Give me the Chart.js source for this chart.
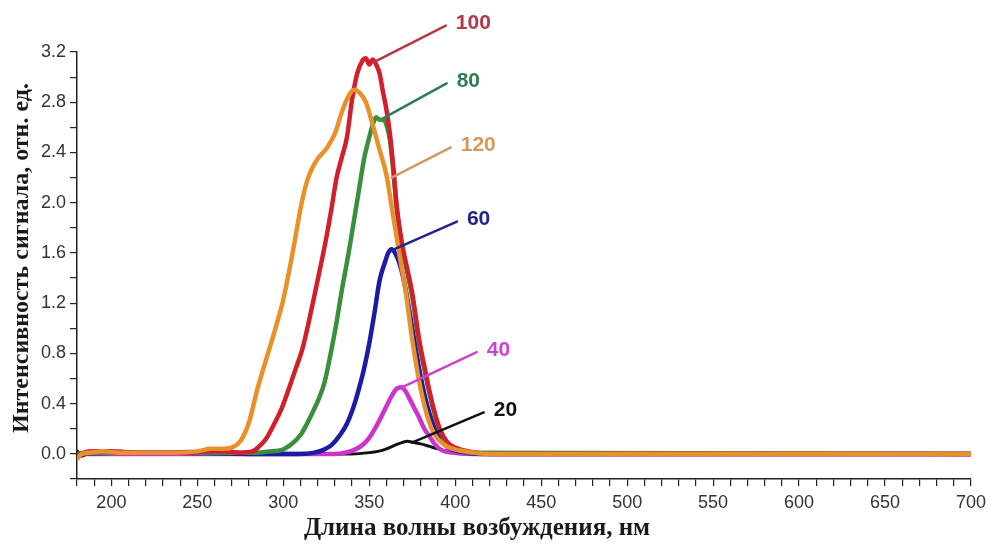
<!DOCTYPE html>
<html lang="ru">
<head>
<meta charset="utf-8">
<title>Спектры возбуждения</title>
<script src="https://cdn.jsdelivr.net/npm/chart.js@4.4.1/dist/chart.umd.min.js"></script>
<style>
  html, body { margin: 0; padding: 0; background: #fff; }
  #wrap { width: 992px; height: 544px; position: relative; }
</style>
</head>
<body>
<div id="wrap"><canvas id="spectra"></canvas></div>
<script>
// Excitation spectra, one curve per parameter value (label shown at the callout)
const seriesNames = ['120', '100', '80', '60', '40', '20'];

const wl120 = [180, 183, 188, 195, 205, 220, 235, 250, 258, 265, 270, 275, 280, 285, 290, 295, 300, 305, 308, 311, 314, 317, 320, 325, 330, 334, 338, 341, 344, 348, 352, 356, 360, 363, 366, 368, 371, 375, 380, 386, 394, 406, 420, 700];
const int120 = [-0.04, 0.0, 0.01, 0.02, 0.01, 0.01, 0.01, 0.02, 0.04, 0.04, 0.05, 0.1, 0.25, 0.52, 0.75, 0.98, 1.23, 1.57, 1.8, 2.02, 2.18, 2.28, 2.35, 2.43, 2.55, 2.72, 2.85, 2.9, 2.88, 2.8, 2.62, 2.42, 2.22, 1.97, 1.72, 1.55, 1.31, 0.91, 0.51, 0.21, 0.07, 0.02, 0.0, 0.0];

const wl100 = [180, 184, 190, 200, 215, 230, 245, 255, 265, 275, 282, 286, 290, 294, 299, 303, 307, 311, 314, 317, 321, 325, 328, 331, 334, 337, 340, 343, 346, 348, 350, 352, 354, 356, 358, 360, 362, 364, 366, 369, 372, 375, 379, 382, 385, 388, 391, 395, 400, 408, 420, 700];
const int100 = [-0.02, 0.01, 0.02, 0.02, 0.01, 0.01, 0.01, 0.02, 0.02, 0.01, 0.02, 0.06, 0.12, 0.22, 0.36, 0.51, 0.67, 0.83, 1.0, 1.19, 1.45, 1.72, 1.95, 2.2, 2.36, 2.52, 2.82, 3.03, 3.13, 3.15, 3.1, 3.14, 3.1, 3.03, 2.88, 2.74, 2.55, 2.28, 1.97, 1.68, 1.48, 1.28, 0.91, 0.7, 0.5, 0.33, 0.2, 0.1, 0.05, 0.02, 0.0, 0.0];

const wl80 = [180, 190, 210, 240, 270, 285, 292, 299, 305, 310, 313, 317, 321, 324, 328, 331, 334, 338, 341, 344, 347, 350, 352, 354, 356, 358, 360, 362, 364, 366, 369, 372, 375, 379, 382, 385, 388, 391, 395, 400, 410, 700];
const int80 = [0.0, 0.01, 0.01, 0.01, 0.01, 0.01, 0.02, 0.03, 0.08, 0.15, 0.22, 0.33, 0.45, 0.57, 0.83, 1.05, 1.3, 1.6, 1.85, 2.1, 2.35, 2.52, 2.62, 2.68, 2.66, 2.66, 2.62, 2.5, 2.25, 1.95, 1.65, 1.45, 1.25, 0.88, 0.68, 0.48, 0.32, 0.19, 0.09, 0.04, 0.01, 0.0];

const wl60 = [180, 200, 240, 280, 310, 318, 323, 328, 333, 337, 341, 344, 347, 350, 353, 356, 359, 361, 363, 365, 368, 371, 375, 379, 383, 387, 391, 396, 402, 415, 700];
const int60 = [0.0, 0.01, 0.01, 0.0, 0.0, 0.01, 0.03, 0.07, 0.15, 0.24, 0.38, 0.52, 0.68, 0.88, 1.12, 1.38, 1.52, 1.6, 1.63, 1.6, 1.5, 1.32, 1.0, 0.68, 0.42, 0.24, 0.12, 0.05, 0.02, 0.0, 0.0];

const wl40 = [180, 220, 280, 330, 336, 341, 345, 349, 352, 356, 360, 363, 366, 369, 371, 373, 376, 379, 382, 385, 388, 392, 398, 410, 700];
const int40 = [0.0, 0.0, 0.0, 0.0, 0.01, 0.03, 0.06, 0.11, 0.17, 0.27, 0.38, 0.46, 0.52, 0.53, 0.5, 0.45, 0.37, 0.29, 0.2, 0.14, 0.08, 0.03, 0.01, 0.0, 0.0];

const wl20 = [180, 182, 186, 190, 196, 205, 215, 230, 245, 260, 280, 300, 320, 340, 350, 355, 360, 365, 369, 372, 376, 380, 385, 390, 396, 405, 420];
const int20 = [0.03, -0.02, 0.0, 0.02, 0.01, 0.02, 0.01, 0.01, 0.02, 0.01, 0.0, 0.0, 0.0, 0.0, 0.01, 0.02, 0.04, 0.07, 0.09, 0.1, 0.09, 0.08, 0.06, 0.04, 0.02, 0.01, 0.0];

// callouts: [wavelength, intensity] where the leader starts and ends
const calloutFrom = [[363, 2.2], [352.7, 3.12], [358.5, 2.675], [363, 1.62], [369, 0.53], [374.8, 0.09]];
const calloutTo = [[397.4, 2.44], [394.5, 3.41], [395, 2.95], [401, 1.85], [412.5, 0.81], [416.6, 0.33]];

const xTickStep = 10;
const yTickStep = 0.2;

const lineColors = ['#e8912c', '#d2202a', '#3a8f3c', '#1b1ba6', '#cc33cc', '#111111'];
const labelColors = ['#d39a5f', '#b5374a', '#2e7d55', '#23238a', '#cc44cc', '#111111'];
const allWl = [wl120, wl100, wl80, wl60, wl40, wl20];
const allInt = [int120, int100, int80, int60, int40, int20];

const datasets = seriesNames.map((name, i) => ({
  label: name,
  data: allWl[i].map((w, k) => ({ x: w, y: allInt[i][k] })),
  borderColor: lineColors[i],
  borderWidth: i === 5 ? 3 : 4.5,
  pointRadius: 0,
  cubicInterpolationMode: 'monotone',
  fill: false
}));

// leader lines and numbers next to the peaks
const calloutPlugin = {
  id: 'callouts',
  afterDatasetsDraw(chart) {
    const { ctx, scales: { x, y } } = chart;
    ctx.save();
    ctx.lineCap = 'round';
    ctx.font = 'bold 21px "Liberation Sans", Arial, sans-serif';
    ctx.textBaseline = 'middle';
    seriesNames.forEach((name, i) => {
      const x0 = x.getPixelForValue(calloutFrom[i][0]);
      const y0 = y.getPixelForValue(calloutFrom[i][1]);
      const x1 = x.getPixelForValue(calloutTo[i][0]);
      const y1 = y.getPixelForValue(calloutTo[i][1]);
      ctx.strokeStyle = labelColors[i];
      ctx.lineWidth = 2.5;
      ctx.beginPath();
      ctx.moveTo(x0, y0);
      ctx.lineTo(x1, y1);
      ctx.stroke();
      ctx.fillStyle = labelColors[i];
      ctx.fillText(name, x1 + 10, y1 - 2);
    });
    ctx.restore();
  }
};

// axis captions
const axisTitles = {
  id: 'axisTitles',
  afterDraw(chart) {
    const { ctx, chartArea } = chart;
    ctx.save();
    ctx.fillStyle = '#1a1a1a';
    ctx.font = 'bold 25px "Liberation Serif", "Times New Roman", serif';
    ctx.textAlign = 'center';
    ctx.textBaseline = 'middle';
    ctx.fillText('Длина волны возбуждения, нм', 477, chartArea.bottom + 50);
    ctx.font = 'bold 24px "Liberation Serif", "Times New Roman", serif';
    ctx.translate(22, 258);
    ctx.rotate(-Math.PI / 2);
    ctx.fillText('Интенсивность сигнала, отн. ед.', 0, 0);
    ctx.restore();
  }
};

const tickFont = { family: '"Liberation Sans", Arial, sans-serif', size: 18 };

new Chart(document.getElementById('spectra').getContext('2d'), {
  type: 'line',
  data: { datasets: datasets },
  options: {
    responsive: true,
    maintainAspectRatio: false,
    animation: false,
    layout: { padding: { top: 52, right: 19, left: 0, bottom: 0 } },
    plugins: {
      legend: { display: false },
      tooltip: { enabled: false }
    },
    scales: {
      x: {
        type: 'linear',
        min: 180,
        max: 700,
        afterFit(scale) { scale.height = 65; },
        border: { display: true, color: '#222', width: 1.5 },
        grid: { drawOnChartArea: false, drawTicks: true, tickLength: 7, color: '#222', lineWidth: 1.2 },
        ticks: {
          stepSize: xTickStep,
          autoSkip: false,
          maxRotation: 0,
          padding: 6,
          color: '#333',
          font: tickFont,
          callback: (v) => (v % 50 === 0 ? String(v) : '')
        }
      },
      y: {
        min: -0.2,
        max: 3.2,
        afterFit(scale) { scale.width = 77; },
        border: { display: true, color: '#222', width: 1.5 },
        grid: { drawOnChartArea: false, drawTicks: true, tickLength: 7, color: '#222', lineWidth: 1.2 },
        ticks: {
          stepSize: yTickStep,
          autoSkip: false,
          padding: 4,
          color: '#333',
          font: tickFont,
          callback: (v) => {
            const r = Math.round(v * 10);
            return (r >= 0 && r % 4 === 0) ? (r / 10).toFixed(1) : '';
          }
        }
      }
    }
  },
  plugins: [calloutPlugin, axisTitles]
});
</script>
</body>
</html>
